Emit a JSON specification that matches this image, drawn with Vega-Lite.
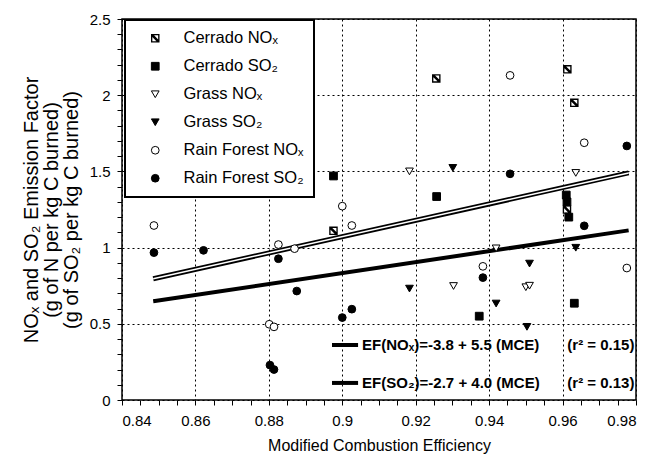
{
  "$schema": "https://vega.github.io/schema/vega-lite/v6.json",
  "width": 514,
  "height": 381,
  "autosize": "none",
  "padding": {"left": 122, "top": 19, "right": 19, "bottom": 60},
  "background": "white",
  "config": {
    "font": "Liberation Sans",
    "view": {"stroke": "black", "strokeWidth": 1.5},
    "legend": {"strokeWidth": 2},
    "axis": {"labelColor": "black", "titleColor": "black", "tickColor": "black", "labelFont": "Liberation Sans", "titleFont": "Liberation Sans", "titleFontWeight": "normal"}
  },
  "datasets": {
    "points": [
      {"mce": 0.9256, "ef": 2.11, "series": "Cerrado NOₓ"},
      {"mce": 0.9613, "ef": 2.17, "series": "Cerrado NOₓ"},
      {"mce": 0.9632, "ef": 1.95, "series": "Cerrado NOₓ"},
      {"mce": 0.8976, "ef": 1.11, "series": "Cerrado NOₓ"},
      {"mce": 0.9612, "ef": 1.25, "series": "Cerrado NOₓ"},
      {"mce": 0.8976, "ef": 1.47, "series": "Cerrado SO₂"},
      {"mce": 0.9257, "ef": 1.335, "series": "Cerrado SO₂"},
      {"mce": 0.9373, "ef": 0.55, "series": "Cerrado SO₂"},
      {"mce": 0.961, "ef": 1.345, "series": "Cerrado SO₂"},
      {"mce": 0.9612, "ef": 1.3, "series": "Cerrado SO₂"},
      {"mce": 0.9617, "ef": 1.2, "series": "Cerrado SO₂"},
      {"mce": 0.9632, "ef": 0.635, "series": "Cerrado SO₂"},
      {"mce": 0.9183, "ef": 1.5, "series": "Grass NOₓ"},
      {"mce": 0.9303, "ef": 0.748, "series": "Grass NOₓ"},
      {"mce": 0.9636, "ef": 1.49, "series": "Grass NOₓ"},
      {"mce": 0.9419, "ef": 0.995, "series": "Grass NOₓ"},
      {"mce": 0.95, "ef": 0.74, "series": "Grass NOₓ"},
      {"mce": 0.951, "ef": 0.75, "series": "Grass NOₓ"},
      {"mce": 0.9301, "ef": 1.523, "series": "Grass SO₂"},
      {"mce": 0.9183, "ef": 0.731, "series": "Grass SO₂"},
      {"mce": 0.9636, "ef": 0.999, "series": "Grass SO₂"},
      {"mce": 0.951, "ef": 0.895, "series": "Grass SO₂"},
      {"mce": 0.9419, "ef": 0.633, "series": "Grass SO₂"},
      {"mce": 0.9503, "ef": 0.48, "series": "Grass SO₂"},
      {"mce": 0.8487, "ef": 1.145, "series": "Rain Forest NOₓ"},
      {"mce": 0.8826, "ef": 1.02, "series": "Rain Forest NOₓ"},
      {"mce": 0.887, "ef": 0.993, "series": "Rain Forest NOₓ"},
      {"mce": 0.8801, "ef": 0.497, "series": "Rain Forest NOₓ"},
      {"mce": 0.8814, "ef": 0.48, "series": "Rain Forest NOₓ"},
      {"mce": 0.9, "ef": 1.272, "series": "Rain Forest NOₓ"},
      {"mce": 0.9026, "ef": 1.145, "series": "Rain Forest NOₓ"},
      {"mce": 0.9383, "ef": 0.877, "series": "Rain Forest NOₓ"},
      {"mce": 0.9659, "ef": 1.688, "series": "Rain Forest NOₓ"},
      {"mce": 0.9775, "ef": 0.866, "series": "Rain Forest NOₓ"},
      {"mce": 0.9457, "ef": 2.13, "series": "Rain Forest NOₓ"},
      {"mce": 0.8487, "ef": 0.967, "series": "Rain Forest SO₂"},
      {"mce": 0.8622, "ef": 0.982, "series": "Rain Forest SO₂"},
      {"mce": 0.8826, "ef": 0.927, "series": "Rain Forest SO₂"},
      {"mce": 0.8876, "ef": 0.715, "series": "Rain Forest SO₂"},
      {"mce": 0.8803, "ef": 0.229, "series": "Rain Forest SO₂"},
      {"mce": 0.8814, "ef": 0.2, "series": "Rain Forest SO₂"},
      {"mce": 0.9026, "ef": 0.596, "series": "Rain Forest SO₂"},
      {"mce": 0.9, "ef": 0.541, "series": "Rain Forest SO₂"},
      {"mce": 0.9383, "ef": 0.803, "series": "Rain Forest SO₂"},
      {"mce": 0.9775, "ef": 1.667, "series": "Rain Forest SO₂"},
      {"mce": 0.9457, "ef": 1.484, "series": "Rain Forest SO₂"},
      {"mce": 0.9659, "ef": 1.143, "series": "Rain Forest SO₂"}
    ],
    "fits": [
      {"mce": 0.8485, "ef": 0.796, "fit": "NOx"},
      {"mce": 0.978, "ef": 1.49, "fit": "NOx"},
      {"mce": 0.8485, "ef": 0.648, "fit": "SO2"},
      {"mce": 0.978, "ef": 1.113, "fit": "SO2"}
    ]
  },
  "resolve": {"scale": {"x": "independent", "y": "independent"}, "axis": {"x": "independent", "y": "independent"}},
  "layer": [
    {
      "data": {"name": "fits"},
      "transform": [{"filter": "datum.fit == 'NOx'"}],
      "mark": {"type": "line", "color": "black", "strokeWidth": 5},
      "encoding": {
        "x": {"field": "mce", "type": "quantitative", "scale": {"domain": [0.84, 0.98], "nice": false, "zero": false}, "axis": null},
        "y": {"field": "ef", "type": "quantitative", "scale": {"domain": [0, 2.5], "nice": false, "zero": false}, "axis": null}
      }
    },
    {
      "data": {"name": "fits"},
      "transform": [{"filter": "datum.fit == 'NOx'"}],
      "mark": {"type": "line", "color": "white", "strokeWidth": 1.5},
      "encoding": {
        "x": {"field": "mce", "type": "quantitative", "scale": {"domain": [0.84, 0.98], "nice": false, "zero": false}, "axis": null},
        "y": {"field": "ef", "type": "quantitative", "scale": {"domain": [0, 2.5], "nice": false, "zero": false}, "axis": null}
      }
    },
    {
      "data": {"name": "fits"},
      "transform": [{"filter": "datum.fit == 'SO2'"}],
      "mark": {"type": "line", "color": "black", "strokeWidth": 4},
      "encoding": {
        "x": {"field": "mce", "type": "quantitative", "scale": {"domain": [0.84, 0.98], "nice": false, "zero": false}, "axis": null},
        "y": {"field": "ef", "type": "quantitative", "scale": {"domain": [0, 2.5], "nice": false, "zero": false}, "axis": null}
      }
    },
    {
      "data": {"name": "points"},
      "mark": {"type": "point", "filled": true, "strokeWidth": 1, "size": 60, "opacity": 1},
      "encoding": {
        "x": {"field": "mce", "type": "quantitative", "scale": {"domain": [0.84, 0.98], "nice": false, "zero": false},
          "axis": {"orient": "bottom", "title": "Modified Combustion Efficiency", "titleFontSize": 16, "titlePadding": 9, "domain": false,
            "labelFontSize": 15, "labelPadding": 8, "labelOverlap": false, "ticks": true, "tickSize": 5, "tickWidth": 1,
            "values": [0.84,0.845,0.85,0.855,0.86,0.865,0.87,0.875,0.88,0.885,0.89,0.895,0.9,0.905,0.91,0.915,0.92,0.925,0.93,0.935,0.94,0.945,0.95,0.955,0.96,0.965,0.97,0.975,0.98],
            "labelExpr": "round(datum.value*1000) % 20 == 0 ? format(datum.value, '.2~f') : ''",
            "grid": true, "gridColor": "black", "gridDash": [2, 3], "gridWidth": 1,
            "gridOpacity": {"condition": {"test": "round(datum.value*1000) % 20 == 0", "value": 1}, "value": 0}}},
        "y": {"field": "ef", "type": "quantitative", "scale": {"domain": [0, 2.5], "nice": false, "zero": false},
          "axis": {"orient": "left", "title": ["NOₓ and SO₂   Emission Factor", "(g of N per kg C burned)", "(g of SO₂ per kg C burned)"],
            "titleFontSize": 20, "titleLineHeight": 20, "titlePadding": 8, "domain": false,
            "labelFontSize": 15, "labelPadding": 7, "labelOverlap": false, "ticks": true, "tickSize": 5, "tickWidth": 1,
            "values": [0,0.1,0.2,0.3,0.4,0.5,0.6,0.7,0.8,0.9,1,1.1,1.2,1.3,1.4,1.5,1.6,1.7,1.8,1.9,2,2.1,2.2,2.3,2.4,2.5],
            "labelExpr": "round(datum.value*10) % 5 == 0 ? format(datum.value, '~g') : ''",
            "grid": true, "gridColor": "black", "gridDash": [2, 3], "gridWidth": 1,
            "gridOpacity": {"condition": {"test": "round(datum.value*10) % 5 == 0", "value": 1}, "value": 0}}},
        "shape": {"field": "series", "type": "nominal",
          "scale": {"domain": ["Cerrado NOₓ", "Cerrado SO₂", "Grass NOₓ", "Grass SO₂", "Rain Forest NOₓ", "Rain Forest SO₂"],
            "range": ["M-1.1,-1.1L1.1,-1.1L1.1,1.1L-1.1,1.1Z M-0.75,-0.75L-0.75,0.75L0.75,0.75L0.75,-0.75Z M-0.75,-0.75L-0.3,-0.75L0.75,0.3L0.75,0.75L0.3,0.75L-0.75,-0.3Z", "square", "triangle-down", "triangle-down", "circle", "circle"]},
          "legend": {"orient": "none", "legendX": 3, "legendY": 1, "title": null, "fillColor": "white", "strokeColor": "black",
            "padding": 10, "symbolOffset": 12, "labelOffset": 20, "labelFontSize": 16.5, "labelFont": "Liberation Sans", "labelColor": "black",
            "symbolSize": 60, "symbolStrokeWidth": 1, "rowPadding": 11}},
        "fill": {"field": "series", "type": "nominal",
          "scale": {"domain": ["Cerrado NOₓ", "Cerrado SO₂", "Grass NOₓ", "Grass SO₂", "Rain Forest NOₓ", "Rain Forest SO₂"],
            "range": ["black", "black", "white", "black", "white", "black"]},
          "legend": {"orient": "none", "legendX": 3, "legendY": 1, "title": null, "fillColor": "white", "strokeColor": "black",
            "padding": 10, "symbolOffset": 12, "labelOffset": 20, "labelFontSize": 16.5, "labelFont": "Liberation Sans", "labelColor": "black",
            "symbolSize": 60, "symbolStrokeWidth": 1, "rowPadding": 11}},
        "stroke": {"field": "series", "type": "nominal",
          "scale": {"domain": ["Cerrado NOₓ", "Cerrado SO₂", "Grass NOₓ", "Grass SO₂", "Rain Forest NOₓ", "Rain Forest SO₂"],
            "range": ["transparent", "black", "black", "black", "black", "black"]},
          "legend": {"orient": "none", "legendX": 3, "legendY": 1, "title": null, "fillColor": "white", "strokeColor": "black",
            "padding": 10, "symbolOffset": 12, "labelOffset": 20, "labelFontSize": 16.5, "labelFont": "Liberation Sans", "labelColor": "black",
            "symbolSize": 60, "symbolStrokeWidth": 1, "rowPadding": 11}}
      }
    },
    {
      "data": {"values": [{}]},
      "mark": {"type": "rule", "color": "black", "strokeWidth": 4},
      "encoding": {
        "x": {"datum": 0.8972, "type": "quantitative", "scale": {"domain": [0.84, 0.98], "nice": false, "zero": false}, "axis": null},
        "x2": {"datum": 0.9043},
        "y": {"datum": 0.361, "type": "quantitative", "scale": {"domain": [0, 2.5], "nice": false, "zero": false}, "axis": null}
      }
    },
    {
      "data": {"values": [{}]},
      "mark": {"type": "rule", "color": "black", "strokeWidth": 4},
      "encoding": {
        "x": {"datum": 0.8972, "type": "quantitative", "scale": {"domain": [0.84, 0.98], "nice": false, "zero": false}, "axis": null},
        "x2": {"datum": 0.9043},
        "y": {"datum": 0.112, "type": "quantitative", "scale": {"domain": [0, 2.5], "nice": false, "zero": false}, "axis": null}
      }
    },
    {
      "data": {"values": [{}]},
      "mark": {"type": "text", "text": "EF(NOₓ)=-3.8 + 5.5 (MCE)", "align": "left", "baseline": "middle", "fontWeight": "bold", "fontSize": 15, "font": "Liberation Sans", "color": "black"},
      "encoding": {
        "x": {"datum": 0.9054, "type": "quantitative", "scale": {"domain": [0.84, 0.98], "nice": false, "zero": false}, "axis": null},
        "y": {"datum": 0.361, "type": "quantitative", "scale": {"domain": [0, 2.5], "nice": false, "zero": false}, "axis": null}
      }
    },
    {
      "data": {"values": [{}]},
      "mark": {"type": "text", "text": "(r² = 0.15)", "align": "left", "baseline": "middle", "fontWeight": "bold", "fontSize": 15, "font": "Liberation Sans", "color": "black"},
      "encoding": {
        "x": {"datum": 0.9613, "type": "quantitative", "scale": {"domain": [0.84, 0.98], "nice": false, "zero": false}, "axis": null},
        "y": {"datum": 0.361, "type": "quantitative", "scale": {"domain": [0, 2.5], "nice": false, "zero": false}, "axis": null}
      }
    },
    {
      "data": {"values": [{}]},
      "mark": {"type": "text", "text": "EF(SO₂)=-2.7 + 4.0 (MCE)", "align": "left", "baseline": "middle", "fontWeight": "bold", "fontSize": 15, "font": "Liberation Sans", "color": "black"},
      "encoding": {
        "x": {"datum": 0.9054, "type": "quantitative", "scale": {"domain": [0.84, 0.98], "nice": false, "zero": false}, "axis": null},
        "y": {"datum": 0.112, "type": "quantitative", "scale": {"domain": [0, 2.5], "nice": false, "zero": false}, "axis": null}
      }
    },
    {
      "data": {"values": [{}]},
      "mark": {"type": "text", "text": "(r² = 0.13)", "align": "left", "baseline": "middle", "fontWeight": "bold", "fontSize": 15, "font": "Liberation Sans", "color": "black"},
      "encoding": {
        "x": {"datum": 0.9613, "type": "quantitative", "scale": {"domain": [0.84, 0.98], "nice": false, "zero": false}, "axis": null},
        "y": {"datum": 0.112, "type": "quantitative", "scale": {"domain": [0, 2.5], "nice": false, "zero": false}, "axis": null}
      }
    }
  ]
}
